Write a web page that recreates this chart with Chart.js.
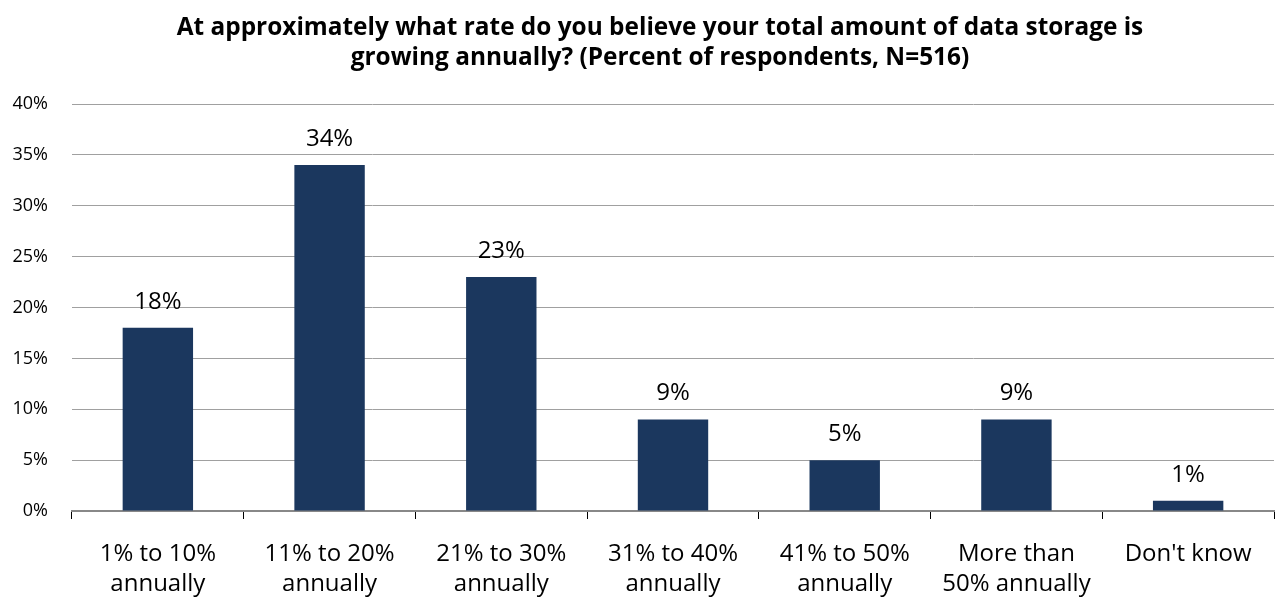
<!DOCTYPE html>
<html>
<head>
<meta charset="utf-8">
<script src="https://cdn.jsdelivr.net/npm/chart.js@4"></script>
<style>
  body { margin: 0; background: #fff; }
</style>
</head>
<body>
<canvas id="myChart" width="1275" height="602"></canvas>
<script>
let xValues = [
    ["1% to 10%", "annually"],
    ["11% to 20%", "annually"],
    ["21% to 30%", "annually"],
    ["31% to 40%", "annually"],
    ["41% to 50%", "annually"],
    ["More than", "50% annually"],
    "Don't know"
];
let yValues = [18, 34, 23, 9, 5, 9, 1];
let yTicks = [0, 5, 10, 15, 20, 25, 30, 35, 40];
let titleLines = ["At approximately what rate do you believe your total amount of data storage is",
                  "growing annually? (Percent of respondents, N=516)"];
let barColor = "#1b375e";
let fontName = "'Open Sans', 'Liberation Sans', sans-serif";

// draws the value over each bar
const valueLabels = {
    id: "valueLabels",
    afterDatasetsDraw(chart) {
        let ctx = chart.ctx;
        let meta = chart.getDatasetMeta(0);
        ctx.save();
        ctx.font = "24px " + fontName;
        ctx.fillStyle = "#000";
        ctx.textAlign = "center";
        ctx.textBaseline = "alphabetic";
        meta.data.forEach((bar, i) => {
            ctx.fillText(yValues[i] + "%", bar.x, bar.y - 19);
        });
        ctx.restore();
    }
};

// title is centred a bit right of the canvas middle, like the original
const titleText = {
    id: "titleText",
    afterDraw(chart) {
        let ctx = chart.ctx;
        ctx.save();
        ctx.font = "bold 24.4px " + fontName;
        ctx.fillStyle = "#000";
        ctx.textAlign = "center";
        ctx.textBaseline = "middle";
        titleLines.forEach((line, i) => {
            ctx.fillText(line, 660, 28 + i * 30);
        });
        ctx.restore();
    }
};

new Chart("myChart", {
    type: "bar",
    data: {
        labels: xValues,
        datasets: [{
            backgroundColor: barColor,
            data: yValues,
            barPercentage: 0.41,
            categoryPercentage: 1.0
        }]
    },
    options: {
        responsive: false,
        animation: false,
        layout: {padding: {top: 104, right: 1}},
        plugins: {
            legend: {display: false},
            tooltip: {enabled: false},
            title: {display: false}
        },
        scales: {
            x: {
                grid: {
                    offset: true,
                    drawOnChartArea: false,
                    tickLength: 8,
                    color: "#000",
                    tickColor: "#000"
                },
                border: {color: "#888", width: 2},
                ticks: {
                    color: "#000",
                    maxRotation: 0,
                    autoSkip: false,
                    padding: 20,
                    font: {family: fontName, size: 24, lineHeight: 1.25}
                },
                afterFit(scale) { scale.height = 91; }
            },
            y: {
                min: 0,
                max: 40,
                afterBuildTicks(scale) {
                    scale.ticks = yTicks.map(v => ({value: v}));
                },
                grid: {
                    color: "#a0a0a0",
                    drawTicks: false
                },
                border: {display: false},
                ticks: {
                    color: "#000",
                    padding: 24,
                    font: {family: fontName, size: 18},
                    callback: v => v + "%"
                },
                afterFit(scale) { scale.width = 72; }
            }
        }
    },
    plugins: [valueLabels, titleText]
});
</script>
</body>
</html>
